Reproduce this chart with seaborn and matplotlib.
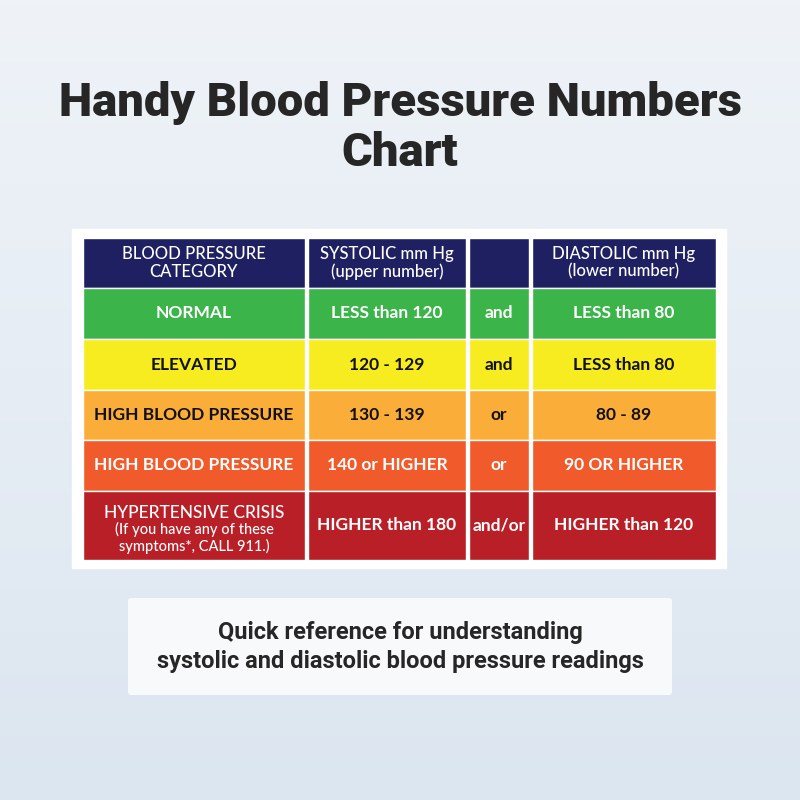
import matplotlib
matplotlib.use("Agg")
import matplotlib.pyplot as plt
import seaborn as sns
import numpy as np
from matplotlib.patches import Rectangle, FancyBboxPatch

sns.set_theme(style="white")
plt.rcParams['font.family'] = ['Lato', 'DejaVu Sans']

title_lines = ["Handy Blood Pressure Numbers", "Chart"]
header = ["BLOOD PRESSURE\nCATEGORY", "SYSTOLIC mm Hg\n(upper number)", "", "DIASTOLIC mm Hg\n(lower number)"]
categories = ["NORMAL", "ELEVATED", "HIGH BLOOD PRESSURE", "HIGH BLOOD PRESSURE", "HYPERTENSIVE CRISIS"]
systolic = ["LESS than 120", "120 - 129", "130 - 139", "140 or HIGHER", "HIGHER than 180"]
connector = ["and", "and", "or", "or", "and/or"]
diastolic = ["LESS than 80", "LESS than 80", "80 - 89", "90 OR HIGHER", "HIGHER than 120"]
row_colors = ["#3bb44a", "#f6ec1f", "#fbad3a", "#f15a2a", "#b91f27"]
text_colors = ["white", "#111111", "#111111", "white", "white"]
caption = "Quick reference for understanding\nsystolic and diastolic blood pressure readings"

fig = plt.figure(figsize=(8, 8), dpi=100)
ax = fig.add_axes([0, 0, 1, 1])
ax.set_xlim(0, 800); ax.set_ylim(800, 0); ax.axis("off")

grad = np.linspace(0, 1, 256)[:, None]
cmap = matplotlib.colors.LinearSegmentedColormap.from_list("bg", ["#eff3f8", "#dce6f0"])
ax.imshow(grad, extent=[0, 800, 800, 0], cmap=cmap, aspect="auto", zorder=0)

ax.text(400, 103, title_lines[0], ha="center", va="center", fontsize=34, fontweight="heavy",
        color="#262626", family=["Roboto", "DejaVu Sans"])
ax.text(400, 153, title_lines[1], ha="center", va="center", fontsize=34, fontweight="heavy",
        color="#262626", family=["Roboto", "DejaVu Sans"])

ax.add_patch(Rectangle((72, 229), 654, 339, facecolor="white", zorder=1))
col_edges = [(83, 305), (308, 466), (469, 529), (532, 716)]
row_edges = [(238, 288), (288, 339), (339, 390), (390, 440), (440, 491), (491, 560)]

def cell(c, r, color, txt, tcolor, size=12.5, weight="bold"):
    x0, x1 = col_edges[c]; y0, y1 = row_edges[r]
    ax.add_patch(Rectangle((x0, y0), x1 - x0, y1 - y0, facecolor=color, zorder=2))
    if txt:
        ax.text((x0 + x1) / 2, (y0 + y1) / 2, txt, ha="center", va="center", color=tcolor,
                fontsize=size, fontweight=weight, zorder=3, linespacing=1.1)

for c, h in enumerate(header):
    cell(c, 0, "#1f2062", h, "white", size=12, weight="medium")

for i in range(len(categories)):
    r = i + 1
    if i == 4:
        x0, x1 = col_edges[0]; y0, y1 = row_edges[r]
        ax.add_patch(Rectangle((x0, y0), x1 - x0, y1 - y0, facecolor=row_colors[i], zorder=2))
        ax.text((x0 + x1) / 2, 513, categories[i], ha="center", va="center", color="white",
                fontsize=12.5, fontweight="medium", zorder=3)
        ax.text((x0 + x1) / 2, 538, "(If you have any of these\nsymptoms*, CALL 911.)", ha="center",
                va="center", color="white", fontsize=10.5, fontweight="medium", zorder=3, linespacing=1.1)
    else:
        cell(0, r, row_colors[i], categories[i], text_colors[i])
    cell(1, r, row_colors[i], systolic[i], text_colors[i])
    cell(2, r, row_colors[i], connector[i], text_colors[i])
    cell(3, r, row_colors[i], diastolic[i], text_colors[i])

ax.add_patch(FancyBboxPatch((128, 598), 544, 97, boxstyle="round,pad=0,rounding_size=3",
                            facecolor="#f8f9fb", edgecolor="none", zorder=1))
ax.text(400, 647, caption, ha="center", va="center", fontsize=17, fontweight="bold",
        color="#262626", linespacing=1.35, family=["Roboto", "DejaVu Sans"])

fig.savefig("out.png", dpi=100)
